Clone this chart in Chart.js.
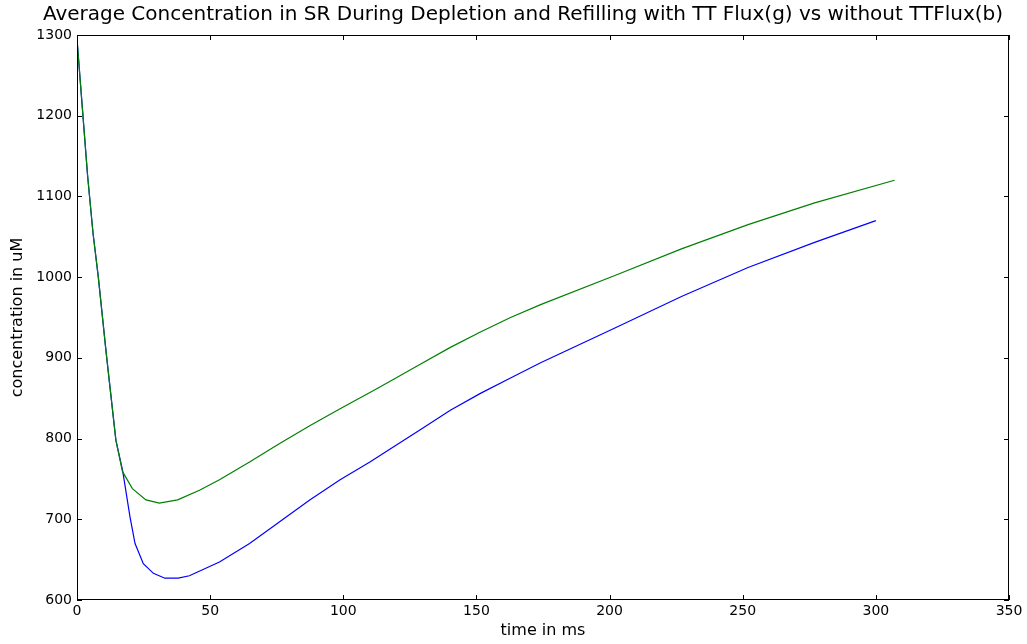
<!DOCTYPE html>
<html>
<head>
<meta charset="utf-8">
<script src="https://cdn.jsdelivr.net/npm/chart.js@4.4.1/dist/chart.umd.min.js"></script>
<style>
    html, body { margin: 0; padding: 0; background: #fff; }
    #wrap { width: 1027px; height: 644px; }
</style>
</head>
<body>
<div id="wrap"><canvas id="chart" width="1027" height="644"></canvas></div>
<script>
const chartTitle = "Average Concentration in SR During Depletion and Refilling with TT Flux(g) vs without TTFlux(b)";
const xLabel = "time in ms";
const yLabel = "concentration in uM";

const xTicks = [0, 50, 100, 150, 200, 250, 300, 350];
const yTicks = [600, 700, 800, 900, 1000, 1100, 1200, 1300];

// with TT flux (green)
const timeGreen = [0, 2, 4, 6, 8, 11, 14.6, 17.1, 20.8, 25.9, 30.9, 37.8, 46, 53.5, 64.8, 76.1, 87.4, 98.8, 110, 117.6, 128.9, 140.2, 151.5, 162.8, 174.1, 202, 227, 252, 277, 307];
const concGreen = [1295, 1210, 1125, 1055, 1000, 905, 798, 759, 738, 724, 720, 724, 736, 749, 771, 794, 816, 837, 857, 871, 892, 913, 932, 950, 966, 1002, 1035, 1065, 1092, 1120];

// without TT flux (blue)
const timeBlue = [0, 2, 4, 6, 8, 11, 14.6, 17.2, 19.9, 21.8, 24.9, 28.7, 33, 38, 42.2, 53.5, 64.8, 76.1, 87.4, 98.8, 110, 117.6, 128.9, 140.2, 151.5, 162.8, 174.1, 202, 227, 252, 277, 300];
const concBlue = [1295, 1210, 1125, 1055, 1000, 905, 798, 759, 703, 670, 645, 633, 627, 627, 630, 647, 670, 697, 724, 749, 771, 787, 811, 835, 856, 875, 894, 937, 976, 1012, 1043, 1070];

const toPoints = (xs, ys) => xs.map((x, i) => ({ x, y: ys[i] }));

// matplotlib-like frame, inward ticks and title
const framePlugin = {
    id: "frame",
    afterDraw(chart) {
        const { ctx, chartArea: a, scales } = chart;
        ctx.save();
        ctx.strokeStyle = "#000";
        ctx.lineWidth = 1;
        ctx.strokeRect(a.left + 0.5, a.top + 0.5, a.right - a.left - 1, a.bottom - a.top - 1);
        const len = 5;
        ctx.beginPath();
        xTicks.forEach((v) => {
            const px = Math.round(scales.x.getPixelForValue(v)) + 0.5;
            ctx.moveTo(px, a.bottom);
            ctx.lineTo(px, a.bottom - len);
            ctx.moveTo(px, a.top);
            ctx.lineTo(px, a.top + len);
        });
        yTicks.forEach((v) => {
            const py = Math.round(scales.y.getPixelForValue(v)) + 0.5;
            ctx.moveTo(a.left, py);
            ctx.lineTo(a.left + len, py);
            ctx.moveTo(a.right, py);
            ctx.lineTo(a.right - len, py);
        });
        ctx.stroke();

        ctx.fillStyle = "#000";
        ctx.font = "20px 'DejaVu Sans'";
        ctx.textAlign = "center";
        ctx.textBaseline = "middle";
        ctx.fillText(chartTitle, 523, 15);
        ctx.restore();
    },
};

const tickFont = { family: "DejaVu Sans", size: 14 };
const labelFont = { family: "DejaVu Sans", size: 16 };

new Chart(document.getElementById("chart"), {
    type: "scatter",
    data: {
        datasets: [
            {
                label: "with TT flux",
                data: toPoints(timeGreen, concGreen),
                showLine: true,
                borderColor: "#008000",
                borderWidth: 1.2,
                pointRadius: 0,
                tension: 0,
            },
            {
                label: "without TT flux",
                data: toPoints(timeBlue, concBlue),
                showLine: true,
                borderColor: "#0000ff",
                borderWidth: 1.2,
                pointRadius: 0,
                tension: 0,
            },
        ],
    },
    options: {
        responsive: false,
        animation: false,
        layout: { padding: { top: 35, right: 18, left: 0, bottom: 0 } },
        plugins: {
            legend: { display: false },
            tooltip: { enabled: false },
            title: { display: false },
        },
        scales: {
            x: {
                type: "linear",
                min: 0,
                max: 350,
                afterBuildTicks: (s) => { s.ticks = xTicks.map((v) => ({ value: v })); },
                afterFit: (s) => { s.height = 44; },
                grid: { display: false, drawTicks: false },
                border: { display: false },
                ticks: { color: "#000", font: tickFont, padding: 3, maxRotation: 0, callback: (v) => String(v) },
                title: { display: true, text: xLabel, color: "#000", font: labelFont, padding: { top: 0, bottom: 4 } },
            },
            y: {
                type: "linear",
                min: 600,
                max: 1300,
                afterBuildTicks: (s) => { s.ticks = yTicks.map((v) => ({ value: v })); },
                afterFit: (s) => { s.width = 77; },
                grid: { display: false, drawTicks: false },
                border: { display: false },
                ticks: { color: "#000", font: tickFont, padding: 5, callback: (v) => String(v) },
                title: { display: true, text: yLabel, color: "#000", font: labelFont, padding: { top: 8, bottom: 0 } },
            },
        },
    },
    plugins: [framePlugin],
});
</script>
</body>
</html>
